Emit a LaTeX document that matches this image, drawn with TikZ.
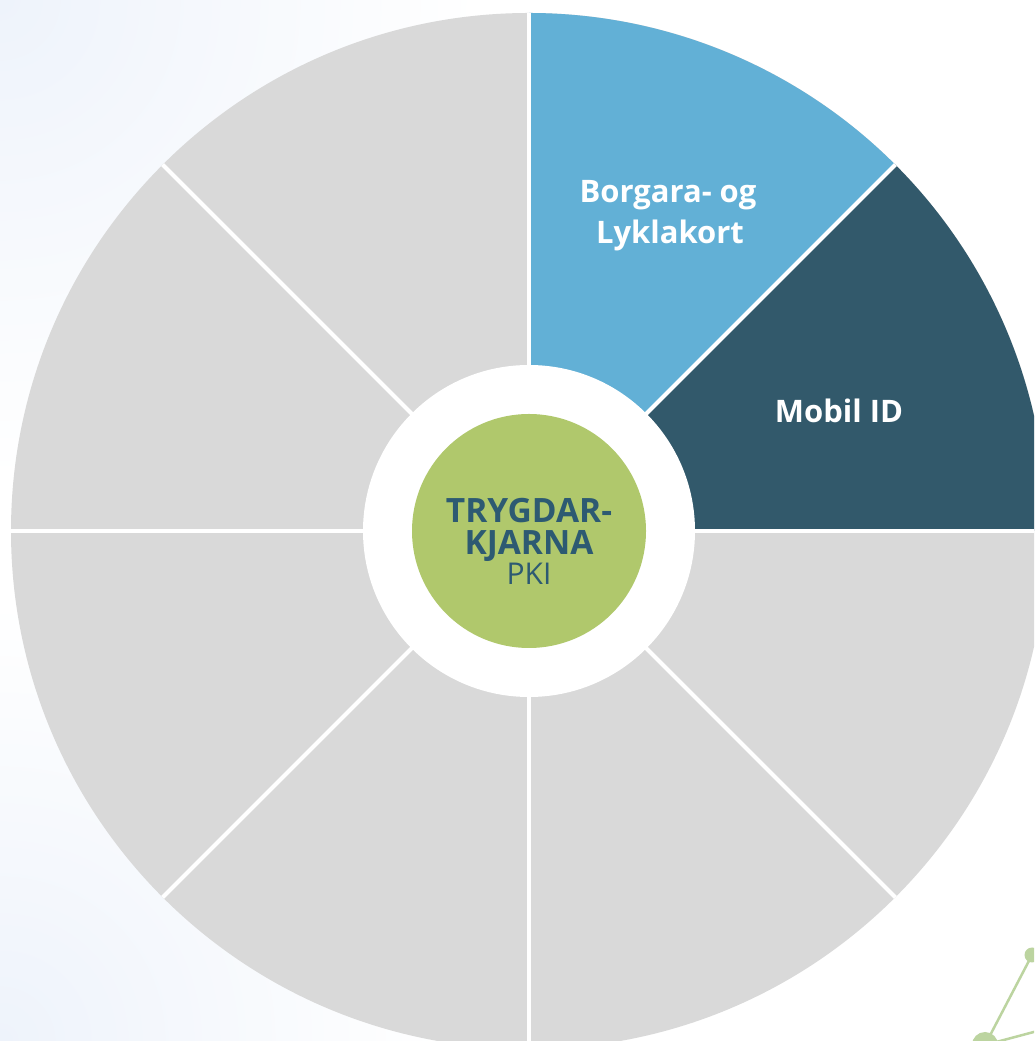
\documentclass[tikz,border=0pt]{standalone}
\usepackage{fontspec}
\setmainfont{Open Sans}
\definecolor{secgray}{HTML}{D9D9D9}
\definecolor{secblue}{HTML}{62B0D6}
\definecolor{secdark}{HTML}{32596B}
\definecolor{coregreen}{HTML}{B0C86C}
\definecolor{coretext}{HTML}{2D5A72}
\definecolor{bgblue}{HTML}{EEF3FB}
\definecolor{molgreen}{HTML}{BCD4A0}
\tikzset{
  seclabel/.style={text=white, font=\bfseries\fontsize{31}{40}\selectfont, align=center, inner sep=0pt},
  corelabel/.style={text=coretext, align=center, inner sep=0pt},
  divider/.style={draw=white, line width=4pt},
}
\begin{document}
\begin{tikzpicture}[x=1pt,y=1pt]
\useasboundingbox (0,0) rectangle (1034,1041);
\clip (0,0) rectangle (1034,1041);
\fill[white] (0,0) rectangle (1034,1041);
% soft background glow
\shade[inner color=bgblue, outer color=white] (0,1041) circle (480);
\shade[inner color=bgblue, outer color=white] (0,0) circle (440);
\coordinate (C) at (529,510);
% wheel
\fill[secgray] (C) circle (518);
\fill[secblue] (C) -- ++(90:518) arc (90:45:518) -- cycle;
\fill[secdark] (C) -- ++(45:518) arc (45:0:518) -- cycle;
\begin{scope}
  \clip (C) circle (518);
  \foreach \a in {0,45,...,315} {
    \draw[divider] (C) -- ++(\a:530);
  }
\end{scope}
\fill[white] (C) circle (166);
\node[circle, fill=coregreen, minimum size=234pt, inner sep=0pt] (core) at (C) {};
\node[corelabel, anchor=base] (t1) at (529,518) {\bfseries\fontsize{33.5}{34}\selectfont TRYGDAR-};
\node[corelabel, anchor=base] (t2) at (529,486) {\bfseries\fontsize{33.5}{34}\selectfont KJARNA};
\node[corelabel, anchor=base] (t3) at (529,456) {\fontsize{30}{30}\selectfont PKI};
% sector labels
\node[seclabel, anchor=base] (b1) at (668,838) {Borgara- og};
\node[seclabel, anchor=base] (b2) at (670,797) {Lyklakort};
\node[seclabel, anchor=base] (m1) at (839,618) {Mobil ID};
% molecule decoration
\coordinate (mA) at (1032,86);
\coordinate (mB) at (985,-4);
\coordinate (mC) at (1045,12);
\draw[molgreen, line width=2.5pt] (mA) -- (mB) -- (mC);
\fill[molgreen] (mA) circle (7.5);
\fill[molgreen] (mB) circle (13);
\end{tikzpicture}
\end{document}
